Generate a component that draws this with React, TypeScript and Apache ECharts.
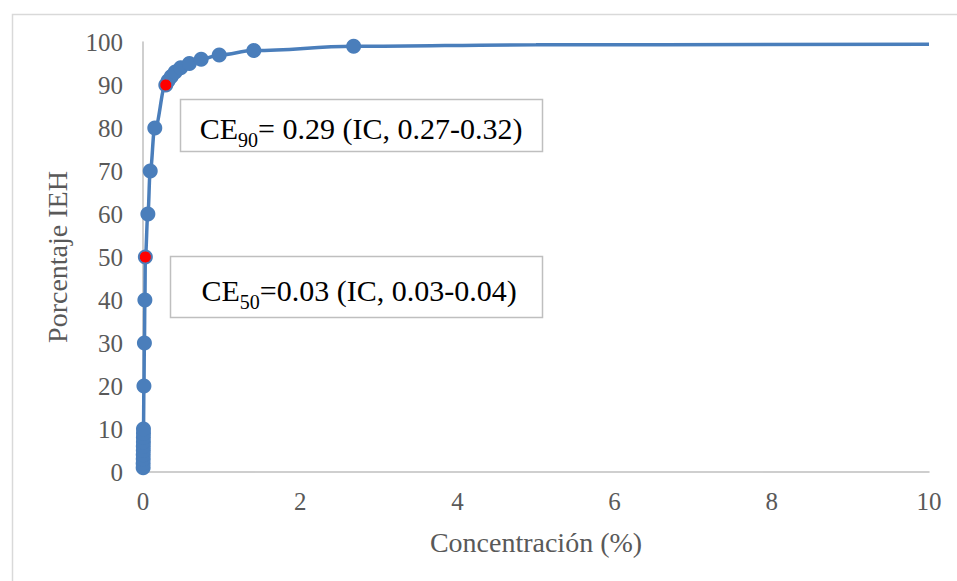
import React, { useEffect, useRef } from "react";
import * as echarts from "echarts";

const concPoints = [0.002, 0.002, 0.003, 0.003, 0.004, 0.004, 0.005, 0.005, 0.006, 0.006, 0.012, 0.018, 0.024, 0.03, 0.062, 0.092, 0.15, 0.29, 0.32, 0.36, 0.41, 0.48, 0.59, 0.74, 0.97, 1.41, 2.68];
const pctPoints = [1, 2, 3, 4, 5, 6, 7, 8, 9, 10, 20, 30, 40, 50, 60, 70, 80, 90, 91, 92, 93, 94, 95, 96, 97, 98, 99];
const tailConc = [5, 10];
const tailPct = [99.35, 99.5];
const ecConc = [0.03, 0.29];
const ecPct = [50, 90];
const xTicks = { min: 0, max: 10, interval: 2 };
const yTicks = { min: 0, max: 100, interval: 10 };

const BLUE = "#4a7ebb";
const FONT = "Liberation Serif";

export default function App() {
  const ref = useRef<HTMLDivElement>(null);
  useEffect(() => {
    const chart = echarts.init(ref.current!, null, { renderer: "svg" });
    const points = concPoints.map((c, i) => [c, pctPoints[i]]);
    const curve = points.concat(tailConc.map((c, i) => [c, tailPct[i]]));
    const ec = ecConc.map((c, i) => [c, ecPct[i]]);
    const rich = {
      a: { fontFamily: FONT, fontSize: 30, fill: "#000000", lineHeight: 34, verticalAlign: "bottom" },
      s: { fontFamily: FONT, fontSize: 20, fill: "#000000", lineHeight: 34, verticalAlign: "bottom", padding: [0, 0, -7, 0] },
    };
    chart.setOption({
      animation: false,
      backgroundColor: "#ffffff",
      grid: { left: 143, right: 28, top: 42, bottom: 109 },
      xAxis: {
        type: "value",
        min: xTicks.min,
        max: xTicks.max,
        interval: xTicks.interval,
        name: "Concentración (%)",
        nameLocation: "middle",
        nameGap: 56,
        nameTextStyle: { fontFamily: FONT, fontSize: 28, color: "#595959" },
        axisLine: { lineStyle: { color: "#bfbfbf", width: 1.5 } },
        axisTick: { show: false },
        splitLine: { show: false },
        axisLabel: { fontFamily: FONT, fontSize: 25, color: "#595959", margin: 17 },
      },
      yAxis: {
        type: "value",
        min: yTicks.min,
        max: yTicks.max,
        interval: yTicks.interval,
        name: "Porcentaje IEH",
        nameLocation: "middle",
        nameGap: 72,
        nameTextStyle: { fontFamily: FONT, fontSize: 28, color: "#595959" },
        axisLine: { show: true, lineStyle: { color: "#bfbfbf", width: 1.5 } },
        axisTick: { show: false },
        splitLine: { show: false },
        axisLabel: { fontFamily: FONT, fontSize: 25, color: "#595959", margin: 20 },
      },
      graphic: [
        {
          type: "rect",
          left: 10,
          top: 12,
          shape: { x: 0, y: 0, width: 1000, height: 620 },
          style: { fill: "none", stroke: "#d9d9d9", lineWidth: 1.5 },
          silent: true,
          z: 0,
        },
        {
          type: "rect",
          shape: { x: 180.5, y: 99.5, width: 362, height: 52 },
          style: { fill: "#ffffff", stroke: "#bfbfbf", lineWidth: 1.5 },
          z: 10,
        },
        {
          type: "text",
          x: 361,
          y: 126,
          z: 11,
          style: {
            text: "{a|CE}{s|90}{a|= 0.29 (IC, 0.27-0.32)}",
            align: "center",
            verticalAlign: "middle",
            rich,
          },
        },
        {
          type: "rect",
          shape: { x: 170.5, y: 256.5, width: 372, height: 61 },
          style: { fill: "#ffffff", stroke: "#bfbfbf", lineWidth: 1.5 },
          z: 10,
        },
        {
          type: "text",
          x: 359,
          y: 288,
          z: 11,
          style: {
            text: "{a|CE}{s|50}{a|=0.03 (IC, 0.03-0.04)}",
            align: "center",
            verticalAlign: "middle",
            rich,
          },
        },
      ],
      series: [
        {
          type: "line",
          data: curve,
          showSymbol: false,
          smooth: 0.4,
          smoothMonotone: "x",
          lineStyle: { color: BLUE, width: 3.5 },
          z: 2,
        },
        {
          type: "scatter",
          data: points,
          symbol: "circle",
          symbolSize: 15,
          itemStyle: { color: BLUE, opacity: 1 },
          z: 3,
        },
        {
          type: "scatter",
          data: ec,
          symbol: "circle",
          symbolSize: 12,
          itemStyle: { color: "#ff0000", borderColor: BLUE, borderWidth: 1, opacity: 1 },
          z: 4,
        },
      ],
    });
    return () => chart.dispose();
  }, []);
  return <div ref={ref} style={{ position: "fixed", left: 0, top: 0, width: 957, height: 581, background: "#fff" }} />;
}
